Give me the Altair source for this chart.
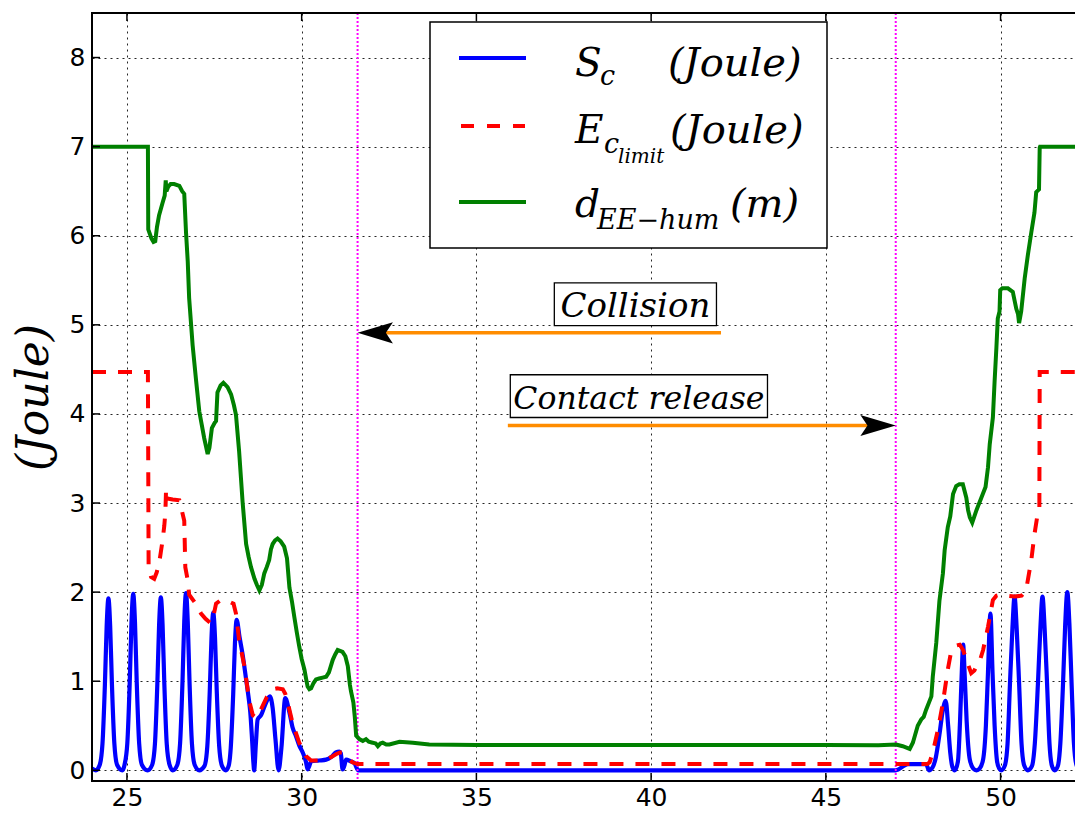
import altair as alt
import pandas as pd

# ---------------- data ----------------
blue_x = [24.00, 24.11, 24.22, 24.30, 24.37, 24.42, 24.47, 24.52, 24.57, 24.64, 24.72, 24.87,
          24.93, 25.01, 25.08, 25.13, 25.18, 25.23, 25.28, 25.35, 25.43, 25.59,
          25.72, 25.80, 25.87, 25.92, 25.97, 26.02, 26.07, 26.14, 26.22, 26.31,
          26.44, 26.52, 26.59, 26.64, 26.69, 26.74, 26.79, 26.86, 26.94, 27.07,
          27.22, 27.30, 27.37, 27.42, 27.47, 27.52, 27.57, 27.64, 27.72, 27.83,
          27.91, 27.97, 28.04, 28.09, 28.14, 28.22, 28.31, 28.40, 28.47, 28.53, 28.58, 28.62, 28.64,
          28.69, 28.74, 28.84, 28.97, 29.09, 29.17, 29.25, 29.34,
          29.42, 29.53, 29.65, 29.74, 29.84, 29.93, 30.03, 30.12, 30.17,
          30.22, 30.27, 30.50, 30.70, 30.85, 30.98, 31.08, 31.12, 31.17,
          31.22, 31.27, 31.40, 31.51, 31.62,
          47.00, 47.35, 47.87, 47.95,
          48.05, 48.15, 48.25, 48.35, 48.43, 48.50, 48.56, 48.62, 48.69,
          48.78, 48.84, 48.89, 48.93, 48.97, 49.03, 49.12, 49.22, 49.31,
          49.40, 49.50, 49.58, 49.64, 49.71, 49.77, 49.83, 49.90, 49.96, 50.02,
          50.12, 50.20, 50.27, 50.34, 50.40, 50.46, 50.53, 50.60, 50.68, 50.78,
          50.90, 50.98, 51.07, 51.14, 51.20, 51.26, 51.33, 51.40, 51.47, 51.55,
          51.64, 51.71, 51.79, 51.85, 51.91, 51.97, 52.03, 52.10, 52.18, 52.28, 52.35]
blue_y = [0.02, 0.00, 0.06, 0.30, 0.97, 1.62, 1.93, 1.62, 0.97, 0.30, 0.06, 0.00,
          0.06, 0.30, 0.99, 1.66, 1.98, 1.66, 0.99, 0.30, 0.06, 0.00,
          0.06, 0.29, 0.97, 1.63, 1.94, 1.63, 0.97, 0.29, 0.06, 0.00,
          0.06, 0.30, 1.00, 1.67, 1.99, 1.67, 1.00, 0.30, 0.06, 0.00,
          0.05, 0.27, 0.89, 1.49, 1.77, 1.49, 0.89, 0.27, 0.05, 0.00,
          0.05, 0.25, 0.85, 1.42, 1.69, 1.50, 1.30, 1.05, 0.85, 0.65, 0.35, 0.08, 0.00,
          0.30, 0.57, 0.62, 0.75, 0.83, 0.70, 0.35, 0.00,
          0.25, 0.81, 0.65, 0.48, 0.38, 0.28, 0.20, 0.10, 0.01,
          0.05, 0.10, 0.11, 0.12, 0.15, 0.20, 0.21, 0.19, 0.01,
          0.05, 0.12, 0.10, 0.08, 0.00,
          0.00, 0.07, 0.07, 0.00,
          0.03, 0.15, 0.40, 0.68, 0.78, 0.50, 0.20, 0.04, 0.00,
          0.10, 0.55, 1.10, 1.41, 1.10, 0.55, 0.12, 0.02, 0.00,
          0.02, 0.12, 0.50, 1.10, 1.76, 1.10, 0.50, 0.10, 0.02, 0.00,
          0.05, 0.30, 0.98, 1.60, 1.95, 1.60, 0.98, 0.30, 0.05, 0.00,
          0.05, 0.30, 0.98, 1.60, 1.95, 1.60, 0.98, 0.30, 0.05, 0.00,
          0.05, 0.30, 1.00, 1.64, 2.00, 1.64, 1.00, 0.30, 0.05, 0.00, 0.03]

red_x = [24.00, 25.60, 25.62, 25.69, 25.78, 25.85, 25.92, 25.97, 26.02, 26.07, 26.10, 26.12,
         26.16, 26.31, 26.50, 26.58, 26.64, 26.67, 26.74, 26.78, 26.95, 27.12, 27.25, 27.40,
         27.48, 27.55, 27.65, 27.83, 28.05, 28.12, 28.21, 28.36, 28.50, 28.60, 28.69, 28.78,
         28.88, 29.00, 29.17, 29.30, 29.46, 29.53, 29.60, 29.74, 29.93, 30.12, 30.27, 30.50,
         30.70, 30.85, 30.98, 31.10, 31.17, 31.30, 31.45, 31.60,
         47.90, 47.97, 48.06, 48.21, 48.35, 48.49, 48.57, 48.64, 48.73, 48.83, 48.93, 49.02,
         49.16, 49.25, 49.31, 49.40, 49.50, 49.64, 49.78, 49.88, 49.97, 50.40, 50.60, 50.73,
         50.88, 50.97, 51.05, 51.11, 51.12, 52.35]
red_y = [4.47, 4.47, 2.28, 2.17, 2.15, 2.22, 2.32, 2.45, 2.58, 2.75, 2.90, 3.16,
         3.05, 3.04, 3.03, 2.90, 2.80, 2.28, 2.13, 1.97, 1.88, 1.76, 1.70, 1.65,
         1.74, 1.87, 1.90, 1.91, 1.87, 1.76, 1.46, 1.17, 0.78, 0.62, 0.59, 0.64,
         0.72, 0.82, 0.91, 0.92, 0.91, 0.86, 0.76, 0.53, 0.31, 0.16, 0.11, 0.11,
         0.12, 0.15, 0.18, 0.20, 0.20, 0.15, 0.09, 0.07,
         0.07, 0.09, 0.20, 0.46, 0.76, 1.13, 1.30, 1.35, 1.40, 1.41, 1.35, 1.24,
         1.09, 1.12, 1.17, 1.22, 1.35, 1.61, 1.91, 1.96, 1.97, 1.95, 1.96, 2.02,
         2.36, 2.65, 2.85, 2.90, 4.47, 4.47]

green_x = [24.00, 25.60, 25.61, 25.70, 25.76, 25.81, 25.86, 25.92, 25.97, 26.02, 26.08, 26.11,
           26.13, 26.18, 26.25, 26.35, 26.50, 26.58, 26.64, 26.69, 26.74, 26.78, 26.88, 26.98,
           27.07, 27.14, 27.21, 27.31, 27.36, 27.43, 27.51, 27.55, 27.59, 27.68, 27.76, 27.88,
           27.98, 28.06, 28.12, 28.21, 28.31, 28.41, 28.48, 28.55, 28.65, 28.72, 28.79, 28.86,
           28.93, 29.00, 29.07, 29.12, 29.17, 29.24, 29.31, 29.40, 29.50, 29.58, 29.65, 29.72,
           29.79, 29.86, 29.93, 30.00, 30.08, 30.13, 30.17, 30.22, 30.27, 30.34, 30.41, 30.50,
           30.60, 30.70, 30.78, 30.89, 30.96, 31.03, 31.10, 31.17, 31.25, 31.32, 31.38, 31.41,
           31.48, 31.52, 31.56, 31.65, 31.75, 31.84, 31.92, 32.03, 32.12, 32.18, 32.25, 32.32,
           32.42, 32.51, 32.80, 33.18, 33.65, 35.00, 40.00, 45.00, 46.50, 47.01, 47.20, 47.40,
           47.49, 47.63, 47.73, 47.80, 47.87, 48.02, 48.06, 48.16, 48.25, 48.35, 48.40, 48.49,
           48.56, 48.64, 48.73, 48.82, 48.92, 49.02, 49.07, 49.12, 49.19, 49.31, 49.45, 49.57,
           49.64, 49.69, 49.78, 49.83, 49.88, 49.92, 49.97, 49.99, 50.05, 50.21, 50.35, 50.45,
           50.50, 50.53, 50.59, 50.69, 50.78, 50.88, 50.97, 51.02, 51.10, 51.12, 51.13, 52.35]
green_y = [7.00, 7.00, 6.07, 5.97, 5.93, 5.94, 6.10, 6.23, 6.30, 6.37, 6.45, 6.62,
           6.50, 6.55, 6.58, 6.58, 6.56, 6.50, 6.47, 6.04, 5.71, 5.30, 4.77, 4.37,
           4.03, 3.88, 3.73, 3.55, 3.62, 3.84, 3.90, 3.92, 4.24, 4.32, 4.35, 4.30,
           4.22, 4.10, 3.99, 3.58, 3.01, 2.54, 2.40, 2.28, 2.15, 2.08, 2.02, 2.08,
           2.21, 2.28, 2.36, 2.48, 2.54, 2.58, 2.60, 2.57, 2.51, 2.38, 2.05, 1.90,
           1.72, 1.55, 1.39, 1.25, 1.13, 1.02, 0.94, 0.91, 0.92, 0.98, 1.02, 1.03,
           1.04, 1.05, 1.10, 1.24, 1.30, 1.35, 1.34, 1.33, 1.28, 1.17, 0.96, 0.89,
           0.76, 0.60, 0.39, 0.35, 0.33, 0.35, 0.32, 0.31, 0.30, 0.27, 0.30, 0.31,
           0.29, 0.29, 0.32, 0.31, 0.29, 0.285, 0.285, 0.285, 0.28, 0.29, 0.27, 0.24,
           0.31, 0.50, 0.57, 0.60, 0.68, 0.83, 1.05, 1.43, 1.90, 2.21, 2.47, 2.73,
           2.85, 3.10, 3.19, 3.21, 3.21, 3.06, 2.92, 2.84, 2.78, 2.92, 3.06, 3.18,
           3.40, 3.66, 3.96, 4.37, 4.74, 5.07, 5.15, 5.39, 5.41, 5.41, 5.37, 5.18,
           5.12, 5.02, 5.15, 5.52, 5.78, 6.04, 6.26, 6.49, 6.52, 6.99, 7.00, 7.00]

event_x = [31.6, 47.0]                 # magenta dotted event markers
x_ticks = [25, 30, 35, 40, 45, 50]
y_ticks = [0, 1, 2, 3, 4, 5, 6, 7, 8]

labels_txt = ["Collision", "Contact release"]
label_x = [39.55, 39.65]
label_y = [5.09, 4.05]
label_size = [34, 31.5]
box_x0 = [37.23, 35.97]
box_x1 = [41.87, 43.33]
box_y0 = [4.99, 3.96]
box_y1 = [5.47, 4.44]
arrow_from = [42.0, 35.9]
arrow_to = [31.6, 47.0]
arrow_y = [4.91, 3.87]

# ---------------- chart ----------------
W, H = 983, 768
xs = alt.Scale(domain=[24, 52.13], nice=False, zero=False)
ys = alt.Scale(domain=[-0.12, 8.5], nice=False, zero=False)

blue = pd.DataFrame({"x": blue_x, "y": blue_y})
red = pd.DataFrame({"x": red_x, "y": red_y})
green = pd.DataFrame({"x": green_x, "y": green_y})

xaxis = alt.Axis(values=x_ticks, title=None, grid=True, gridColor="black", gridDash=[2, 4],
                 gridWidth=1, gridOpacity=0.85, domain=False, ticks=False, labelFont="DejaVu Sans",
                 labelFontSize=25, labelColor="black", labelPadding=4, labelFlush=False)
yaxis = alt.Axis(values=y_ticks, title="(Joule)", grid=True, gridColor="black", gridDash=[2, 4],
                 gridWidth=1, gridOpacity=0.85, domain=False, ticks=False, labelFont="DejaVu Sans",
                 labelFontSize=25, labelColor="black", labelPadding=7, labelFlush=False,
                 titleFont="DejaVu Serif", titleFontStyle="italic", titleFontWeight="normal",
                 titleFontSize=44, titleColor="black", titleX=-58, titleY=H / 2,
                 titleBaseline="middle", titleAlign="center", titleAngle=270)


def X(f):
    return alt.X(f, type="quantitative", scale=xs, axis=xaxis)


def Y(f):
    return alt.Y(f, type="quantitative", scale=ys, axis=yaxis)


l_blue = alt.Chart(blue).mark_line(color="#0000ff", strokeWidth=4.2, interpolate="monotone",
                                   clip=True).encode(x=X("x"), y=Y("y"))
l_red = alt.Chart(red).mark_line(color="#ff0000", strokeWidth=4, strokeDash=[14, 12],
                                 clip=True).encode(x=X("x"), y=Y("y"))
l_green = alt.Chart(green).mark_line(color="#008000", strokeWidth=4, clip=True).encode(
    x=X("x"), y=Y("y"))

ev = alt.Chart(pd.DataFrame({"x": event_x})).mark_rule(
    color="#ff00ff", strokeWidth=2, strokeDash=[2, 2]).encode(x=X("x"))

xt = pd.DataFrame({"v": x_ticks})
yt = pd.DataFrame({"v": y_ticks})
tick_b = alt.Chart(xt).mark_rule(color="black", strokeWidth=1.5).encode(
    x=X("v"), y=alt.value(H), y2=alt.value(H - 8))
tick_t = alt.Chart(xt).mark_rule(color="black", strokeWidth=1.5).encode(
    x=X("v"), y=alt.value(0), y2=alt.value(8))
tick_l = alt.Chart(yt).mark_rule(color="black", strokeWidth=1.5).encode(
    y=Y("v"), x=alt.value(0), x2=alt.value(8))

# frame: left, top and bottom spines (right spine lies beyond the picture)
one = pd.DataFrame({"k": [0]})
frame = [
    alt.Chart(one).mark_rule(color="black", strokeWidth=2).encode(
        x=alt.value(0), y=alt.value(-1), y2=alt.value(H + 1)),
    alt.Chart(one).mark_rule(color="black", strokeWidth=2).encode(
        x=alt.value(0), x2=alt.value(W), y=alt.value(0)),
    alt.Chart(one).mark_rule(color="black", strokeWidth=2).encode(
        x=alt.value(0), x2=alt.value(W), y=alt.value(H)),
]

ann = pd.DataFrame({"t": labels_txt, "lx": label_x, "ly": label_y, "fs": label_size,
                    "bx0": box_x0, "bx1": box_x1, "by0": box_y0, "by1": box_y1,
                    "a0": arrow_from, "a1": arrow_to, "ay": arrow_y})
ann["a1s"] = [a + (0.45 if a < b else -0.45) for a, b in zip(ann["a1"], ann["a0"])]
ann["shape"] = ["M0,0 L1,-0.3 L0.8,0 L1,0.3 Z", "M0,0 L-1,-0.3 L-0.8,0 L-1,0.3 Z"]

boxes = alt.Chart(ann).mark_rect(fill="white", stroke="black", strokeWidth=1.3).encode(
    x=X("bx0"), x2="bx1", y=Y("by0"), y2="by1")
btxt = alt.Chart(ann).mark_text(font="DejaVu Serif", fontStyle="italic",
                                align="center", baseline="alphabetic", color="black").encode(
    x=X("lx"), y=Y("ly"), text="t:N", size=alt.Size("fs:Q", scale=None, legend=None))
arr = alt.Chart(ann).mark_rule(color="#ff8c00", strokeWidth=3.5).encode(
    x=X("a0"), x2="a1s", y=Y("ay"))
heads = alt.Chart(ann).mark_point(filled=True, color="black", opacity=1, size=5000,
                                  strokeWidth=0).encode(
    x=X("a1"), y=Y("ay"), shape=alt.Shape("shape:N", scale=None))

# ---------------- legend (drawn in pixel space) ----------------
leg_box = alt.Chart(one).mark_rect(fill="white", stroke="black", strokeWidth=1.5).encode(
    x=alt.value(338), x2=alt.value(735), y=alt.value(9), y2=alt.value(235))
leg_b = alt.Chart(one).mark_rule(color="#0000ff", strokeWidth=4).encode(
    x=alt.value(367), x2=alt.value(434), y=alt.value(45))
leg_r = alt.Chart(one).mark_rule(color="#ff0000", strokeWidth=4, strokeDash=[13, 13]).encode(
    x=alt.value(369), x2=alt.value(433), y=alt.value(113))
leg_g = alt.Chart(one).mark_rule(color="#008000", strokeWidth=4).encode(
    x=alt.value(367), x2=alt.value(434), y=alt.value(189))


def ltext(s, x, y, size):
    return alt.Chart(one).mark_text(text=s, font="DejaVu Serif", fontStyle="italic",
                                    fontSize=size, align="left", baseline="alphabetic",
                                    color="black").encode(x=alt.value(x), y=alt.value(y))


leg_txt = [
    ltext("S", 483, 63, 39), ltext("c", 508, 72, 27), ltext("(Joule)", 576, 63, 40),
    ltext("E", 483, 130, 39), ltext("c", 512, 140, 27), ltext("limit", 526, 150, 20),
    ltext("(Joule)", 578, 130, 40),
    ltext("d", 483, 204, 39), ltext("EE\u2212hum", 505, 216, 27), ltext("(m)", 638, 204, 40),
]

chart = alt.layer(
    l_blue, ev, l_red, l_green, tick_b, tick_t, tick_l, *frame, boxes, btxt, arr, heads,
    leg_box, leg_b, leg_r, leg_g, *leg_txt
).properties(
    width=W, height=H,
    autosize=alt.AutoSizeParams(type="none"),
    padding={"left": 84, "top": 5, "right": 0, "bottom": 30},
).configure_view(strokeWidth=0)

chart.save("out.html", embed_options={"renderer": "svg", "actions": False})
